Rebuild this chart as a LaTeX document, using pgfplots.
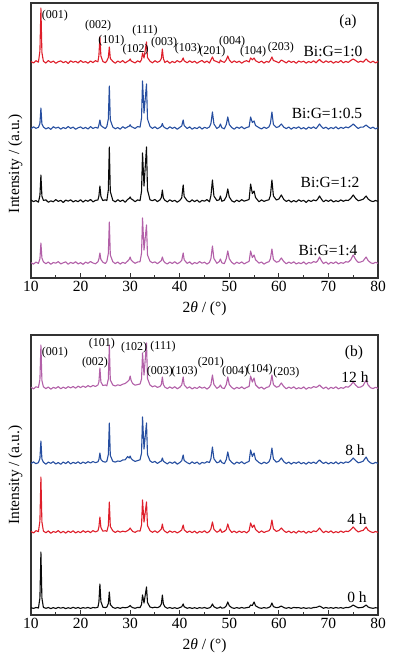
\documentclass[border=0pt]{standalone}
\usepackage{fontspec}
\setmainfont{Liberation Serif}
\usepackage{pgfplots}
\usepackage{pgfplotstable}
\pgfplotsset{compat=1.18}
\definecolor{cred}{RGB}{222,30,42}
\definecolor{cblue}{RGB}{38,78,160}
\definecolor{cpurp}{RGB}{178,96,168}
\definecolor{cblack}{RGB}{10,10,10}

% panel (a): heights above each trace's baseline (px units)
\pgfplotstableread{
x R B K P
10.0 0.5 -0.8 1.0 0.3
10.5 -1.0 1.2 -0.6 -1.1
11.0 1.3 -0.3 0.4 0.9
11.5 -0.2 0.6 -1.2 -0.4
11.8 11 4.5 5.5 4.2
12.0 54 20 26 20
12.2 9.5 4 5 5
12.5 0.8 1.0 0.6 1.2
13.0 -1.1 -0.9 1.1 -0.7
13.5 1.4 0.4 -1.3 1.0
14.0 -0.5 -1.4 0.2 -1.3
14.5 0.9 1.3 -0.8 0.5
15.0 -1.3 -0.2 1.4 -0.2
15.5 0.3 0.8 -0.4 1.4
16.0 1.1 -1.1 0.7 -0.9
16.5 -0.7 0.5 -1.5 0.2
17.0 0.6 -0.6 0.9 1.1
17.5 -1.4 1.5 -0.2 -1.2
18.0 1.2 -0.4 1.2 0.6
18.5 -0.3 0.9 -1.0 -0.5
19.0 0.7 -1.3 0.5 1.3
19.5 -0.9 0.2 -0.7 -1.0
20.0 1.5 1.1 1.3 0.4
20.5 -0.4 -0.7 -1.1 -1.4
21.0 0.4 0.6 0.8 0.9
21.5 -1.2 -1.0 -0.3 -0.3
22.0 1.0 1.4 1.5 1.5
22.5 -0.6 -0.5 -0.9 0.0
23.0 1.3 0.7 0.6 -0.8
23.5 0.2 -0.2 1.0 1.2
23.7 6.5 3 5 4
23.9 25 8 15 10
24.1 6 2.5 4.5 3.5
24.5 0.5 0.9 0.4 0.8
25.0 -0.8 -0.6 1.2 -0.5
25.3 1.1 1.5 0.3 1.6
25.6 4.5 9 11 9.5
25.8 15 42 54 41
26.0 3.5 8 9.5 8
26.5 0.6 1.0 0.7 1.3
27.0 -1.2 -0.8 -0.9 -0.6
27.5 0.9 0.5 1.3 1.0
28.0 -0.4 -1.2 -0.5 -1.1
28.5 1.4 1.3 1.0 0.7
29.0 -0.9 -0.3 -1.2 -0.4
29.5 0.7 1.1 1.6 1.9
29.8 1.5 1.8 2.5 3.5
30.0 3 3.2 4 6
30.2 1.0 1.5 2.2 3.0
30.5 0.2 0.8 1.3 1.4
31.0 -1.0 -0.5 -0.7 -0.3
31.5 1.2 1.4 1.1 1.0
32.0 -0.2 0.9 0.4 1.3
32.3 2.5 10 10 10
32.5 9 47 48 45
32.8 4 15 15 13
33.3 20 44 54 38
33.5 4.5 9 11 8
34.0 0.8 1.6 1.2 1.8
34.5 -0.9 -0.4 0.3 0.2
35.0 1.3 1.2 1.5 1.1
35.5 -0.3 -0.8 -0.6 -0.7
36.0 0.9 0.6 1.0 1.2
36.3 3.5 1.8 3.5 2.5
36.5 13 4.5 11 6
36.7 3.5 1.5 3 2.5
37.0 -0.5 0.3 0.8 0.4
37.5 1.1 -1.0 -0.9 -1.0
38.0 -1.3 1.2 1.2 0.9
38.5 0.6 -0.4 -0.4 -0.5
39.0 -0.7 0.8 0.7 1.3
39.5 1.4 -1.3 -1.2 -0.8
40.0 -0.2 0.6 0.5 0.6
40.4 1.0 2.0 3.0 2.5
40.7 4 8 16 10
40.9 1.2 2.4 4.5 3.2
41.5 -0.8 -0.5 0.3 -0.4
42.0 1.2 1.1 -1.0 1.1
42.5 -0.5 -1.2 1.1 -1.3
43.0 0.8 0.4 -0.6 0.5
43.5 -1.3 -0.6 0.9 -0.6
44.0 0.4 1.3 -1.3 1.4
44.5 1.5 -1.1 0.6 -0.2
45.0 -0.6 0.7 -0.2 0.8
45.5 0.9 -0.3 1.4 -1.1
46.0 -1.0 1.0 -0.8 0.6
46.3 2.0 4.5 5.5 4.5
46.6 5 16 21 17
46.9 1.5 4 5 4.5
47.5 0.3 -0.5 0.4 -0.3
48.0 -0.9 1.2 1.3 1.5
48.2 2 4 5 4
48.5 0.6 0.3 -0.3 0.2
49.0 -0.4 -0.9 0.8 -0.7
49.4 2.2 3.5 4.5 4.5
49.7 6 11 12 12
50.0 2.0 3.5 4 4.2
50.5 -0.7 0.4 0.2 0.6
51.0 1.1 -1.2 -1.1 -1.2
51.5 -0.5 0.9 0.9 0.8
52.0 0.8 -0.3 -0.6 -0.5
52.5 -1.2 1.3 1.3 1.1
53.0 0.5 -0.8 -0.2 -0.9
53.5 1.3 0.5 0.7 0.5
54.0 0.0 1.2 1.5 1.6
54.3 4 11 17 12
54.65 2.2 5.5 7.5 5.5
55.0 4 7 10 8
55.3 1.3 2.5 3.5 3.2
56.0 -0.6 0.3 -0.8 -0.2
56.5 0.9 -1.0 1.1 1.0
57.0 -1.1 0.8 -0.4 -1.1
57.5 0.6 -0.4 0.6 0.4
58.0 -0.3 1.1 1.2 1.3
58.3 2 4.5 5.5 4.2
58.6 5 16 21 14
58.9 1.5 3.5 5 3.5
59.5 0.4 0.5 1.0 0.7
60.0 -0.8 1.3 2.0 1.6
60.5 2 4 6 5
61.0 0.6 0.8 1.5 1.4
61.5 -1.0 -0.6 -0.4 -0.8
62.0 1.2 1.0 0.9 0.9
62.5 -0.4 -1.2 -1.1 -0.4
63.0 0.7 0.6 0.5 1.2
63.5 -1.3 -0.3 -0.9 -1.0
64.0 1.0 1.2 1.2 0.3
64.5 -0.2 -0.9 -0.3 -0.7
65.0 0.8 0.4 0.7 1.1
65.5 -1.1 -1.3 -1.4 -1.3
66.0 0.5 0.9 0.8 0.5
66.5 -0.6 -0.4 -0.5 -0.2
67.0 1.3 1.1 1.0 1.4
67.5 -0.9 -0.7 0.2 0.6
67.8 0.8 1.2 1.6 2.0
68.2 2.5 4 5 6
68.6 0.5 1.3 1.8 2.1
69.0 -0.7 -0.5 -0.8 -0.6
69.5 1.1 0.8 0.9 1.0
70.0 -0.3 -1.1 -0.4 -1.2
70.5 0.9 0.5 1.2 0.7
71.0 -1.2 -0.6 -1.0 -0.5
71.5 0.4 1.2 0.3 1.2
72.0 -0.5 -1.0 -0.6 -0.9
72.5 1.4 0.7 1.1 0.4
73.0 -0.8 -0.4 -0.3 -0.3
73.5 0.6 1.0 0.8 1.3
74.0 -0.4 0.2 0.5 0.8
74.5 1.5 1.8 2.6 3.2
75.0 3 4 6 8
75.5 1.4 1.6 2.5 3.4
76.0 -0.3 -0.5 0.2 0.6
76.5 0.8 0.9 0.9 1.0
77.0 -0.2 0.8 1.7 2.0
77.6 3 3 5 6
78.0 0.9 1.2 2.0 2.5
78.5 -0.6 -0.4 0.2 0.3
79.0 0.8 0.8 -0.6 -0.6
79.5 -1.0 -1.0 0.5 0.7
80.0 0.5 0.3 -0.4 -0.3
}\dataA

% panel (b): 12 h, 8 h, 4 h, 0 h
\pgfplotstableread{
x P B R K
10.0 0.8 -0.5 0.6 0.3
10.5 -0.9 1.1 -1.0 -0.4
11.0 1.2 -0.7 1.3 0.5
11.5 0.5 0.4 0.4 0.0
11.8 8.5 4.5 11 10
12.0 43 22 55 56
12.2 7.5 4 10 10
12.5 1.2 0.8 1.0 0.6
13.0 -0.6 -1.2 -0.8 -0.3
13.5 1.0 0.9 1.1 0.5
14.0 -1.2 -0.3 -1.3 -0.6
14.5 0.6 1.3 0.5 0.4
15.0 -0.3 -1.0 -0.4 -0.5
15.5 1.4 0.5 1.4 0.6
16.0 -0.8 -1.3 -0.9 -0.2
16.5 0.9 1.0 0.7 0.5
17.0 -0.4 -0.6 -1.1 -0.6
17.5 1.3 1.4 0.9 0.3
18.0 0.1 -0.9 -0.5 -0.4
18.5 1.5 0.7 1.2 0.7
19.0 -0.2 -0.5 -1.0 -0.3
19.5 1.8 1.2 0.6 0.5
20.0 0.4 -0.8 -0.7 -0.5
20.5 2.0 1.0 1.3 0.4
21.0 0.6 -0.4 -0.3 -0.2
21.5 2.4 1.3 1.0 0.6
22.0 1.0 0.0 -0.6 -0.4
22.5 2.6 1.5 1.4 0.5
23.0 1.5 0.3 0.0 0.1
23.5 3.0 1.2 1.2 0.8
23.7 6 3.5 5 6
23.9 20 10 15 24
24.1 6 3.5 4.5 6.5
24.5 2.5 1.5 0.8 0.8
25.0 3.0 0.8 1.3 0.4
25.3 2.2 1.8 0.6 0.9
25.6 9 8.5 6.5 4.5
25.8 43 40 30 16
26.0 8 7.5 5.5 3.5
26.5 3.0 1.7 1.2 0.6
27.0 2.0 0.9 -0.5 -0.3
27.5 3.2 2.0 1.1 0.5
28.0 2.5 1.6 -0.2 -0.4
28.5 3.8 3.0 0.9 0.6
29.0 4.5 3.2 0.2 0.2
29.5 6.5 6.5 1.4 0.7
29.8 8 5 2.5 1.5
30.0 12 7 4 2.5
30.2 7.5 4.5 2.5 1.3
30.5 4.5 3.0 0.6 0.4
31.0 2.8 1.6 -0.4 -0.3
31.5 3.4 2.4 1.2 0.6
32.0 4.0 3.2 0.9 0.4
32.3 9 10 7 3.5
32.5 35 46 32 13
32.8 13 14 10 5
33.3 45 40 30 21
33.5 9.5 8.5 6.5 5.5
34.0 3.0 2.2 1.3 1.0
34.5 1.2 0.5 -0.3 0.2
35.0 2.2 1.6 1.2 0.8
35.5 0.6 -0.4 -0.6 0.3
36.0 1.5 1.2 1.4 1.5
36.3 3.5 2 3 4
36.5 11 5 8 13
36.7 3.5 1.8 2.5 4.2
37.0 0.9 0.7 0.8 1.2
37.5 -0.6 -0.9 -0.9 -0.3
38.0 1.1 1.0 1.1 0.5
38.5 -0.4 -0.4 -0.3 -0.4
39.0 1.3 1.2 0.7 0.3
39.5 -0.8 -1.2 -1.0 -0.5
40.0 0.7 0.4 0.5 0.4
40.4 2.8 2.2 2.0 1.2
40.7 11 8 7 4
40.9 3.2 2.5 2.2 1.2
41.5 -0.3 0.3 -0.5 -0.3
42.0 1.2 -0.9 1.0 0.4
42.5 -1.0 1.1 -0.7 -0.4
43.0 0.6 -0.5 0.9 0.3
43.5 -0.5 0.9 -1.2 -0.5
44.0 1.3 -1.3 0.6 0.4
44.5 -0.2 0.6 -0.4 -0.2
45.0 0.8 -0.2 1.2 0.5
45.5 -1.1 1.3 -0.9 -0.4
46.0 0.9 0.5 0.6 0.2
46.3 3.5 4.5 3.2 1.2
46.6 13 16 10 4
46.9 3.5 4.2 2.8 1.2
47.5 -0.4 0.2 -0.3 -0.3
48.0 1.3 1.1 1.2 0.4
48.2 3 3 3 1.2
48.5 0.2 0.4 -0.4 -0.2
49.0 -0.6 -0.7 0.6 0.3
49.4 3.5 3.5 2.5 2.2
49.7 11 11 8 6
50.0 3.5 3.5 2.8 2.3
50.5 0.5 0.6 -0.4 0.3
51.0 -1.1 -1.2 0.9 -0.4
51.5 0.7 0.9 -0.8 0.4
52.0 -0.5 -0.3 1.0 -0.3
52.5 1.2 1.3 -0.5 0.5
53.0 -0.8 -0.8 0.7 -0.2
53.5 0.6 0.6 -0.9 0.4
54.0 1.5 1.6 1.3 0.7
54.3 12 13 9 3
54.65 6 6.5 4.5 2.5
55.0 10 10 7 6
55.3 3.2 3.5 2.5 2.2
56.0 -0.3 0.4 -0.6 0.2
56.5 1.0 -0.9 1.1 -0.3
57.0 -1.1 0.8 -0.5 0.4
57.5 0.5 -0.5 0.6 -0.2
58.0 1.3 1.2 1.2 0.6
58.3 4 4.5 3.5 1.5
58.6 13 15 12 5
58.9 3.5 4 3.2 1.4
59.5 0.7 0.8 0.6 0.3
60.0 1.6 1.8 1.5 0.7
60.5 5 5 4 2
61.0 1.4 1.3 1.2 0.4
61.5 -0.8 -0.6 -0.5 -0.3
62.0 0.9 1.0 1.0 0.5
62.5 -0.4 -1.1 -0.9 -0.4
63.0 1.2 0.7 0.6 0.6
63.5 -1.0 -0.3 -1.1 0.2
64.0 0.3 1.2 1.1 0.4
64.5 -0.7 -0.8 -0.2 -0.3
65.0 1.1 0.5 0.8 0.3
65.5 -1.3 -1.2 -1.3 -0.4
66.0 0.5 0.9 0.7 0.2
66.5 -0.2 -0.4 -0.6 -0.3
67.0 1.4 1.0 1.2 0.5
67.5 0.6 -0.6 0.3 0.6
67.8 1.3 1.1 1.6 1.0
68.2 3 3 4 2
68.6 1.0 1.0 1.5 0.9
69.0 -0.6 -0.5 -0.7 -0.3
69.5 1.0 0.9 0.9 0.5
70.0 -1.2 -1.0 -0.5 -0.2
70.5 0.7 0.6 1.1 0.4
71.0 -0.5 -0.7 -0.9 -0.3
71.5 1.2 1.1 0.4 0.5
72.0 -0.9 -0.9 -0.7 -0.2
72.5 0.4 0.8 1.0 0.4
73.0 -0.3 -0.3 -0.4 -0.3
73.5 1.3 1.1 0.9 0.5
74.0 0.8 0.4 0.4 0.4
74.5 2.8 2.2 2.3 1.3
75.0 6 5 5 3
75.5 2.8 2.4 2.2 1.4
76.0 0.6 0.2 0.0 0.2
76.5 1.0 0.8 1.0 0.4
77.0 2.4 1.8 1.6 0.8
77.6 8 6 5 3
78.0 3.0 2.2 1.8 1.0
78.5 0.3 0.1 0.3 0.1
79.0 -0.6 -0.7 -0.6 -0.3
79.5 0.7 0.6 0.5 0.3
80.0 -0.3 -0.4 -0.4 -0.1
}\dataB

\tikzset{
  hkl/.style={font=\fontsize{12}{13}\selectfont, inner sep=0pt},
  smp/.style={font=\fontsize{15.5}{16}\selectfont, inner sep=0pt},
}
\pgfplotsset{
  xrd/.style={
    scale only axis, width=347pt,
    xmin=10, xmax=80, ymin=0,
    xtick={10,20,...,80}, minor x tick num=1,
    tick align=inside, xtick pos=bottom, ytick=\empty,
    major tick length=5pt, minor tick length=3pt,
    axis line style={line width=1.1pt, black!80},
    every tick/.style={line width=0.9pt, black!80},
    /pgf/number format/assume math mode=true,
    ticklabel style={font=\fontsize{15.5}{16}\selectfont},
    xlabel={2\textit{θ} / (°)},
    ylabel={Intensity / (a.u.)},
    label style={font=\fontsize{15.5}{16}\selectfont},
    xlabel style={yshift=-3pt},
    every axis plot/.append style={line width=1.1pt, line join=round},
  }
}

\begin{document}
\begin{tikzpicture}
\useasboundingbox (0,0) rectangle (393pt,666pt);

% ---------- panel (a) ----------
\begin{axis}[xrd, at={(31pt,388pt)}, anchor=south west, height=275pt, ymax=275,
  ylabel style={at={(axis description cs:-0.045,0.416)}, anchor=center}]
\addplot[cpurp] table[x=x, y expr=\thisrow{P}+15] {\dataA};
\addplot[cblack] table[x=x, y expr=\thisrow{K}+77] {\dataA};
\addplot[cblue] table[x=x, y expr=\thisrow{B}+150] {\dataA};
\addplot[cred] table[x=x, y expr=\thisrow{R}+216] {\dataA};
\node[hkl] at (axis cs:14.84,262) {(001)};
\node[hkl] at (axis cs:23.52,252) {(002)};
\node[hkl] at (axis cs:26.2,237) {(101)};
\node[hkl] at (axis cs:31.1,228) {(102)};
\node[hkl] at (axis cs:33.0,247) {(111)};
\node[hkl] at (axis cs:36.83,235) {(003)};
\node[hkl] at (axis cs:41.67,229) {(103)};
\node[hkl] at (axis cs:46.6,226) {(201)};
\node[hkl] at (axis cs:50.55,236) {(004)};
\node[hkl] at (axis cs:54.79,226) {(104)};
\node[hkl] at (axis cs:60.43,230) {(203)};
\node[smp] at (axis cs:73.95,256) {(a)};
\node[smp] at (axis cs:70.92,227) {Bi:G=1:0};
\node[smp] at (axis cs:69.71,165) {Bi:G=1:0.5};
\node[smp] at (axis cs:70.32,96) {Bi:G=1:2};
\node[smp] at (axis cs:69.92,28) {Bi:G=1:4};
\end{axis}

% ---------- panel (b) ----------
\begin{axis}[xrd, at={(31pt,51pt)}, anchor=south west, height=280pt, ymax=280,
  ylabel style={at={(axis description cs:-0.045,0.5)}, anchor=center}]
\addplot[cblack] table[x=x, y expr=\thisrow{K}+7] {\dataB};
\addplot[cred] table[x=x, y expr=\thisrow{R}+83] {\dataB};
\addplot[cblue] table[x=x, y expr=\thisrow{B}+152] {\dataB};
\addplot[cpurp] table[x=x, y expr=\thisrow{P}+227] {\dataB};
\node[hkl] at (axis cs:14.84,262) {(001)};
\node[hkl] at (axis cs:22.91,252) {(002)};
\node[hkl] at (axis cs:24.32,271) {(101)};
\node[hkl] at (axis cs:30.78,267) {(102)};
\node[hkl] at (axis cs:36.63,268) {(111)};
\node[hkl] at (axis cs:36.0,243) {(003)};
\node[hkl] at (axis cs:41.0,243) {(103)};
\node[hkl] at (axis cs:46.3,252) {(201)};
\node[hkl] at (axis cs:51.2,243) {(004)};
\node[hkl] at (axis cs:56.1,245) {(104)};
\node[hkl] at (axis cs:61.5,242) {(203)};
\node[smp] at (axis cs:75.16,262) {(b)};
\node[smp] at (axis cs:75.36,238) {12 h};
\node[smp] at (axis cs:75.36,165) {8 h};
\node[smp] at (axis cs:75.77,96) {4 h};
\node[smp] at (axis cs:75.77,18) {0 h};
\end{axis}
\end{tikzpicture}
\end{document}
